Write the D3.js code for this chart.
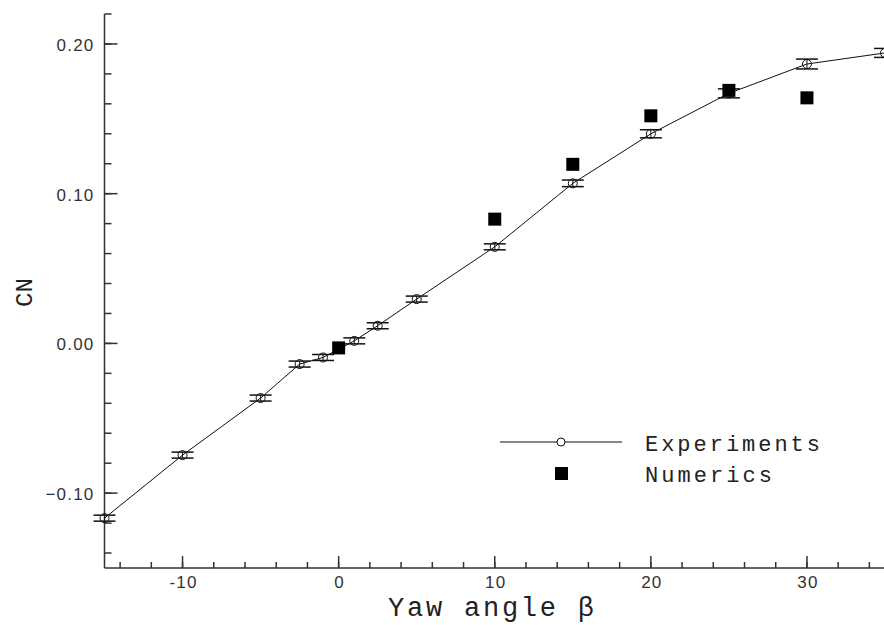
<!DOCTYPE html>
<html>
<head>
<meta charset="utf-8">
<script src="https://cdn.jsdelivr.net/npm/d3@7"></script>
<style>
  body { margin: 0; background: #fff; }
  svg { display: block; }
</style>
</head>
<body>
<div id="chart"></div>
<script>
// experiments (open circles with error bars)
var expBeta = [-15, -10, -5, -2.5, -1, 1, 2.5, 5, 10, 15, 20, 25, 30, 35]
var expCN   = [-0.1167, -0.0746, -0.0365, -0.0138, -0.0094, 0.0017, 0.0118, 0.0296, 0.0645, 0.1069, 0.140, 0.167, 0.1866, 0.194]
var expErr  = [0.002, 0.002, 0.002, 0.002, 0.002, 0.002, 0.002, 0.002, 0.002, 0.0022, 0.0027, 0.003, 0.0033, 0.003]
// numerics (filled squares)
var numBeta = [0, 10, 15, 20, 25, 30]
var numCN   = [-0.003, 0.083, 0.1196, 0.152, 0.169, 0.164]

var xTicks = [-10, 0, 10, 20, 30]
var yTicks = [-0.10, 0.00, 0.10, 0.20]

var W = 884, H = 625

var svg = d3.select('#chart')
  .append('svg')
    .attr('width', W)
    .attr('height', H)

var x = d3.scaleLinear().domain([-15, 35]).range([104.5, 885])
var y = d3.scaleLinear().domain([-0.15, 0.22]).range([568, 14])

var axisColor = '#333'
var mono = 'Liberation Mono, Courier New, monospace'

// y axis (ticks point inside)
var gy = svg.append('g').attr('transform', 'translate(' + x(-15) + ',0)')
gy.append('line')
    .attr('y1', y(-0.15)).attr('y2', y(0.22))
    .attr('stroke', axisColor).attr('stroke-width', 1.5)
gy.selectAll('.ymin')
  .data(d3.range(-0.14, 0.2201, 0.02))
  .enter().append('line')
    .attr('x1', 0).attr('x2', 7)
    .attr('y1', d => y(d)).attr('y2', d => y(d))
    .attr('stroke', axisColor).attr('stroke-width', 1.5)
gy.selectAll('.ymaj')
  .data(yTicks)
  .enter().append('line')
    .attr('x1', 0).attr('x2', 13)
    .attr('y1', d => y(d)).attr('y2', d => y(d))
    .attr('stroke', axisColor).attr('stroke-width', 1.5)
gy.selectAll('.ylab')
  .data(yTicks)
  .enter().append('text')
    .attr('x', -10)
    .attr('y', d => y(d) + 7)
    .attr('text-anchor', 'end')
    .style('font-family', 'Liberation Sans, Arial, sans-serif')
    .style('font-size', '17px')
    .style('letter-spacing', '1.2px')
    .attr('fill', '#333')
    .text(d => d3.format('.2f')(d))

// x axis (ticks point up)
var gx = svg.append('g').attr('transform', 'translate(0,' + y(-0.15) + ')')
gx.append('line')
    .attr('x1', x(-15)).attr('x2', x(35))
    .attr('stroke', axisColor).attr('stroke-width', 1.5)
gx.selectAll('.xmin')
  .data(d3.range(-14, 35, 2))
  .enter().append('line')
    .attr('x1', d => x(d)).attr('x2', d => x(d))
    .attr('y1', 0).attr('y2', -6)
    .attr('stroke', axisColor).attr('stroke-width', 1.5)
gx.selectAll('.xmaj')
  .data(xTicks)
  .enter().append('line')
    .attr('x1', d => x(d)).attr('x2', d => x(d))
    .attr('y1', 0).attr('y2', -12)
    .attr('stroke', axisColor).attr('stroke-width', 1.5)
gx.selectAll('.xlab')
  .data(xTicks)
  .enter().append('text')
    .attr('x', d => x(d) + 1)
    .attr('y', 20)
    .attr('text-anchor', 'middle')
    .style('font-family', 'Liberation Sans, Arial, sans-serif')
    .style('font-size', '17px')
    .style('letter-spacing', '1.2px')
    .attr('fill', '#333')
    .text(d => d)

// axis titles
svg.append('text')
    .attr('x', 388).attr('y', 616)
    .attr('textLength', 206).attr('lengthAdjust', 'spacing')
    .style('font-family', mono)
    .style('font-size', '27px')
    .attr('fill', '#222')
    .text('Yaw angle β')

svg.append('text')
    .attr('transform', 'translate(32,307) rotate(-90)')
    .attr('textLength', 29).attr('lengthAdjust', 'spacingAndGlyphs')
    .style('font-family', mono)
    .style('font-size', '23px')
    .attr('fill', '#222')
    .text('CN')

// experiments line
var exp = expBeta.map((b, i) => ({ b: b, v: expCN[i], e: expErr[i] }))
svg.append('path')
    .datum(exp)
    .attr('fill', 'none')
    .attr('stroke', '#111')
    .attr('stroke-width', 1)
    .attr('d', d3.line().x(d => x(d.b)).y(d => y(d.v)))

// error bars
var eb = svg.selectAll('.err').data(exp).enter().append('g')
eb.append('line')
    .attr('x1', d => x(d.b)).attr('x2', d => x(d.b))
    .attr('y1', d => y(d.v - d.e)).attr('y2', d => y(d.v + d.e))
    .attr('stroke', '#111').attr('stroke-width', 1)
eb.selectAll('.cap')
  .data(d => [{ b: d.b, v: d.v - d.e }, { b: d.b, v: d.v + d.e }])
  .enter().append('line')
    .attr('x1', d => x(d.b) - 11).attr('x2', d => x(d.b) + 11)
    .attr('y1', d => y(d.v)).attr('y2', d => y(d.v))
    .attr('stroke', '#111').attr('stroke-width', 1.5)

svg.selectAll('.pt').data(exp).enter().append('circle')
    .attr('cx', d => x(d.b)).attr('cy', d => y(d.v))
    .attr('r', 4.5)
    .attr('fill', 'none')
    .attr('stroke', '#111').attr('stroke-width', 1)

// numerics
var sq = 13
svg.selectAll('.num')
  .data(numBeta.map((b, i) => ({ b: b, v: numCN[i] })))
  .enter().append('rect')
    .attr('x', d => x(d.b) - sq / 2).attr('y', d => y(d.v) - sq / 2)
    .attr('width', sq).attr('height', sq)
    .attr('fill', '#000')

// legend
var lg = svg.append('g')
lg.append('line')
    .attr('x1', 500).attr('x2', 622).attr('y1', 442).attr('y2', 442)
    .attr('stroke', '#111').attr('stroke-width', 1)
lg.append('circle')
    .attr('cx', 561).attr('cy', 442).attr('r', 4)
    .attr('fill', '#fff').attr('stroke', '#111')
lg.append('rect')
    .attr('x', 555).attr('y', 467).attr('width', 13).attr('height', 13)
    .attr('fill', '#000')
lg.append('text')
    .attr('x', 645).attr('y', 451)
    .attr('textLength', 175).attr('lengthAdjust', 'spacing')
    .style('font-family', mono)
    .style('font-size', '22px')
    .attr('fill', '#222')
    .text('Experiments')
lg.append('text')
    .attr('x', 645).attr('y', 482)
    .attr('textLength', 127).attr('lengthAdjust', 'spacing')
    .style('font-family', mono)
    .style('font-size', '22px')
    .attr('fill', '#222')
    .text('Numerics')
</script>
</body>
</html>
